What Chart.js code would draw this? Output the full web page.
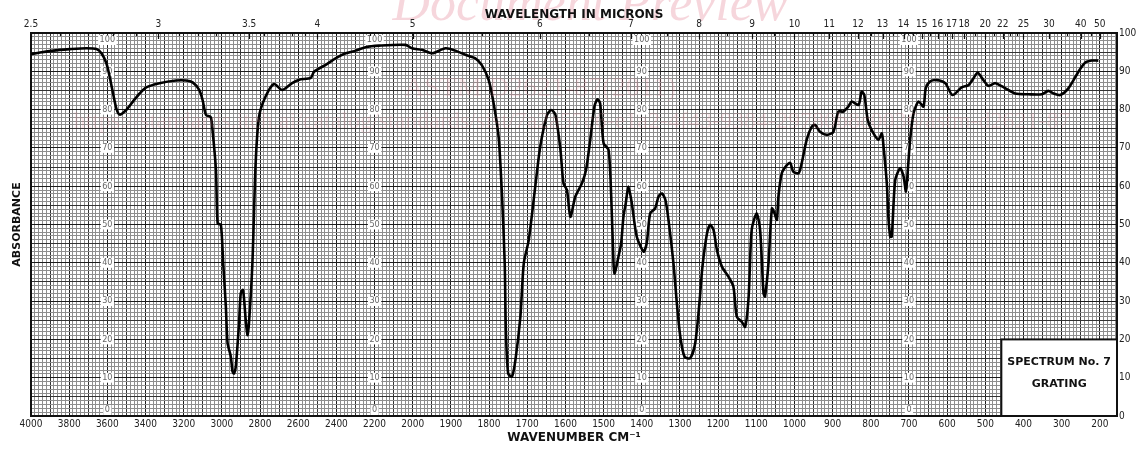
<!DOCTYPE html>
<html>
<head>
<meta charset="utf-8">
<title>Spectrum No. 7 - Grating</title>
<script src="https://cdn.jsdelivr.net/npm/chart.js@4.4.1/dist/chart.umd.min.js"></script>
<style>
	html, body { margin: 0; padding: 0; background: #fff; }
	canvas { display: block; }
</style>
</head>
<body>
<canvas id="spectrum" width="1143" height="450"></canvas>
<script>
// spectrum trace (cm-1 / %)
var wavenumbers = [
	4000, 3953, 3849, 3796, 3709, 3657, 3631, 3605, 3588, 3570, 3553, 3536, 3501, 3466, 3431, 3396,
	3327, 3240, 3188, 3153, 3118, 3101, 3083, 3058, 3049, 3031, 3022, 3005, 2993, 2979, 2970, 2953,
	2944, 2936, 2927, 2910, 2901, 2889, 2875, 2866, 2858, 2840, 2823, 2805, 2771, 2727, 2684, 2632,
	2595, 2534, 2517, 2456, 2404, 2351, 2299, 2247, 2177, 2038, 2003, 1976, 1949, 1914, 1888, 1862,
	1836, 1819, 1801, 1788, 1775, 1766, 1759, 1756, 1750, 1740, 1731, 1718, 1709, 1696, 1679, 1666,
	1648, 1637, 1626, 1613, 1605, 1596, 1587, 1574, 1557, 1546, 1535, 1524, 1516, 1509, 1500, 1487,
	1480, 1474, 1471, 1461, 1454, 1448, 1442, 1435, 1426, 1413, 1395, 1387, 1378, 1365, 1356, 1347,
	1338, 1330, 1317, 1308, 1299, 1288, 1273, 1260, 1249, 1241, 1229, 1221, 1212, 1203, 1190, 1173,
	1160, 1151, 1138, 1129, 1120, 1112, 1099, 1090, 1081, 1077, 1068, 1059, 1052, 1046, 1042, 1033,
	1020, 1011, 1003, 989, 981, 968, 955, 946, 933, 915, 898, 885, 872, 859, 850, 832,
	824, 817, 808, 798, 780, 771, 767, 758, 754, 749, 745, 736, 723, 714, 708, 703,
	697, 688, 675, 662, 656, 645, 627, 605, 586, 562, 544, 534, 520, 505, 492, 474,
	448, 422, 387, 352, 335, 321, 304, 282, 256, 238, 221, 204
];
var absorbance = [
	94.5, 94.9, 95.6, 95.8, 96.0, 95.8, 94.7, 92.1, 88.6, 84.2, 80.3, 78.7, 79.9, 82.1, 84.2, 85.8,
	86.9, 87.6, 87.6, 87.1, 85.1, 82.5, 78.6, 78.0, 74.7, 64.2, 50.3, 49.9, 39.9, 28.5, 19.0, 15.5,
	11.6, 11.1, 12.9, 24.2, 32.0, 32.9, 25.1, 21.1, 24.2, 39.9, 66.0, 78.2, 83.4, 86.7, 85.1, 86.9,
	87.8, 88.3, 89.9, 91.7, 93.4, 94.7, 95.4, 96.3, 96.7, 96.9, 96.0, 95.6, 94.7, 96.0, 95.4, 94.3,
	93.4, 91.6, 87.7, 81.6, 72.9, 57.3, 39.9, 22.5, 11.1, 10.3, 14.6, 25.9, 39.9, 46.0, 59.9, 70.3,
	78.6, 79.9, 78.6, 69.5, 60.7, 59.0, 52.0, 57.3, 60.7, 64.2, 72.1, 80.8, 82.7, 81.6, 71.2, 69.5,
	57.3, 39.9, 37.2, 41.6, 45.1, 52.0, 55.5, 59.9, 55.5, 46.8, 42.9, 45.1, 52.9, 54.2, 57.3, 58.1,
	56.4, 51.2, 39.9, 29.4, 20.7, 15.5, 15.1, 19.0, 29.4, 39.0, 47.7, 49.9, 48.6, 43.3, 39.0, 36.4,
	33.8, 25.9, 24.6, 23.3, 31.2, 48.6, 52.9, 48.6, 32.0, 31.2, 39.9, 54.2, 52.9, 51.2, 57.3, 63.4,
	65.5, 66.1, 63.8, 63.4, 66.0, 72.1, 75.5, 76.0, 74.2, 73.4, 74.2, 79.5, 79.5, 80.8, 82.1, 81.2,
	84.7, 83.8, 77.3, 74.7, 72.1, 73.8, 70.8, 60.7, 52.0, 46.8, 46.8, 61.6, 64.7, 62.5, 58.6, 64.2,
	72.1, 79.0, 82.1, 80.8, 85.6, 87.3, 87.7, 86.9, 83.8, 85.8, 86.4, 87.7, 89.6, 87.7, 86.2, 86.9,
	85.6, 84.2, 84.0, 84.0, 84.9, 84.2, 83.8, 85.6, 89.9, 92.3, 92.8, 92.8
];

// axis labels
var wavenumberTicks = [4000, 3800, 3600, 3400, 3200, 3000, 2800, 2600, 2400, 2200,
	2000, 1900, 1800, 1700, 1600, 1500, 1400, 1300, 1200, 1100, 1000, 900, 800, 700, 600, 500, 400, 300, 200];
var micronTicks = [2.5, 3, 3.5, 4, 5, 6, 7, 8, 9, 10, 11, 12, 13, 14, 15, 16, 17, 18, 20, 22, 25, 30, 40, 50];
var micronMinor = [2.6, 2.7, 2.8, 2.9, 3.1, 3.2, 3.3, 3.4, 3.6, 3.7, 3.8, 3.9, 4.5, 5.5, 6.5, 7.5, 8.5, 9.5,
	10.5, 11.5, 12.5, 13.5, 14.5, 15.5, 16.5, 19, 21, 23, 24, 35, 45];
var absorbanceTicks = [0, 10, 20, 30, 40, 50, 60, 70, 80, 90, 100];
var innerLabelColumns = [3600, 2200, 1400, 700];

var tickFont = '"DejaVu Sans Condensed", "Liberation Sans", sans-serif';
var boldFont = '"DejaVu Sans", "Liberation Sans", sans-serif';

// the grating paper halves its scale above 2000 cm-1
function toPaper(wn) { return wn > 2000 ? 2000 + (wn - 2000) / 2 : wn; }
function fromPaper(u) { return u > 2000 ? 2000 + (u - 2000) * 2 : u; }

var points = wavenumbers.map(function(wn, i) {
	return { x: toPaper(wn), y: absorbance[i] };
});

function gridX(c) {
	var v = c.tick ? c.tick.value : 0;
	if (v % 100 === 0) return '#1c1c1c';
	if (v % 50 === 0) return '#333';
	return '#8e8e8e';
}
function gridY(c) {
	var v = c.tick ? c.tick.value : 0;
	if (v % 10 === 0) return '#1c1c1c';
	if (v % 5 === 0) return '#333';
	return '#8e8e8e';
}

var paperPlugin = {
	id: 'paper',
	beforeDraw: function(chart) {
		// watermark behind the titles
		var ctx = chart.ctx;
		ctx.save();
		ctx.textAlign = 'center';
		ctx.fillStyle = 'rgba(226, 120, 140, 0.3)';
		ctx.font = 'italic 52px "Liberation Serif", serif';
		ctx.fillText('Document Preview', 590, 20);
		ctx.restore();
	},
	beforeDatasetsDraw: function(chart) {
		var ctx = chart.ctx, x = chart.scales.x, y = chart.scales.y;
		ctx.save();
		ctx.font = '9px ' + tickFont;
		ctx.textAlign = 'center';
		ctx.textBaseline = 'middle';
		innerLabelColumns.forEach(function(wn) {
			var px = x.getPixelForValue(toPaper(wn));
			absorbanceTicks.forEach(function(v) {
				var py = y.getPixelForValue(v);
				if (v === 100) py += 7;
				if (v === 0) py -= 6;
				var w = ctx.measureText(String(v)).width + 3;
				ctx.fillStyle = '#fff';
				ctx.fillRect(px - w / 2, py - 5, w, 10);
				ctx.fillStyle = '#666';
				ctx.fillText(String(v), px, py);
			});
		});
		ctx.restore();
	},
	afterDatasetsDraw: function(chart) {
		var ctx = chart.ctx, x = chart.scales.x, y = chart.scales.y, area = chart.chartArea;
		ctx.save();

		// micron marks hanging from the top edge
		ctx.strokeStyle = '#111';
		ctx.lineWidth = 1.2;
		micronTicks.concat(micronMinor).forEach(function(m, i) {
			var px = Math.round(x.getPixelForValue(toPaper(10000 / m))) + 0.5;
			var len = i < micronTicks.length ? 6 : 3;
			ctx.beginPath();
			ctx.moveTo(px, area.top);
			ctx.lineTo(px, area.top + len);
			ctx.stroke();
		});

		// spectrum label box
		var bx = x.getPixelForValue(toPaper(458));
		var by = y.getPixelForValue(20);
		ctx.fillStyle = '#fff';
		ctx.fillRect(bx, by, area.right - bx, area.bottom - by);
		ctx.lineWidth = 2;
		ctx.strokeRect(bx, by, area.right - bx, area.bottom - by);
		ctx.fillStyle = '#111';
		ctx.font = 'bold 11px ' + boldFont;
		ctx.textAlign = 'center';
		ctx.textBaseline = 'middle';
		var cx = (bx + area.right) / 2;
		ctx.fillText('SPECTRUM No. 7', cx, by + 23);
		ctx.fillText('GRATING', cx, by + 45);
		ctx.restore();
	},
	afterDraw: function(chart) {
		// faint document stamp over the paper
		var ctx = chart.ctx;
		ctx.save();
		ctx.textAlign = 'center';
		ctx.fillStyle = 'rgba(226, 120, 140, 0.18)';
		ctx.font = '28px "Liberation Serif", serif';
		ctx.fillText('ASTM D2621-87(2011)', 540, 96);
		ctx.font = '24px "Liberation Serif", serif';
		ctx.fillText('https://standards.iteh.ai/catalog/standards/sist/7a2a57c6-e1a2-4f43-9384-29780b8c0036/astm-d2621-87', 572, 128);
		ctx.restore();
	}
};

new Chart(document.getElementById('spectrum'), {
	type: 'line',
	data: {
		datasets: [{
			data: points,
			borderColor: '#000',
			borderWidth: 2.6,
			pointRadius: 0,
			tension: 0.25,
			fill: false
		}]
	},
	options: {
		responsive: false,
		animation: false,
		layout: { padding: 0 },
		plugins: {
			legend: { display: false },
			tooltip: { enabled: false }
		},
		scales: {
			x: {
				type: 'linear',
				position: 'bottom',
				min: 155,
				max: 3000,
				reverse: true,
				afterBuildTicks: function(scale) {
					var t = [];
					for (var u = 160; u <= 3000; u += 10) t.push({ value: u });
					scale.ticks = t;
				},
				afterFit: function(scale) { scale.height = 34; },
				ticks: {
					autoSkip: false,
					maxRotation: 0,
					padding: 2,
					color: '#222',
					font: { family: tickFont, size: 10 },
					callback: function(v) {
						var wn = fromPaper(v);
						return wavenumberTicks.indexOf(wn) >= 0 ? String(wn) : '';
					}
				},
				grid: { color: gridX, lineWidth: 1, drawTicks: false },
				border: { color: '#111', width: 2 },
				title: {
					display: true,
					text: 'WAVENUMBER CM⁻¹',
					color: '#111',
					font: { family: boldFont, size: 12, weight: 'bold' },
					padding: { top: 0, bottom: 5 }
				}
			},
			x2: {
				type: 'linear',
				position: 'top',
				min: 155,
				max: 3000,
				reverse: true,
				afterBuildTicks: function(scale) {
					scale.ticks = micronTicks.map(function(m) { return { value: toPaper(10000 / m) }; });
				},
				afterFit: function(scale) { scale.height = 33; },
				ticks: {
					autoSkip: false,
					maxRotation: 0,
					padding: 3,
					color: '#222',
					font: { family: tickFont, size: 10 },
					callback: function(v, i) { return String(micronTicks[i]); }
				},
				grid: { drawOnChartArea: false, drawTicks: false },
				border: { color: '#111', width: 2 },
				title: {
					display: true,
					text: 'WAVELENGTH IN MICRONS',
					color: '#111',
					font: { family: boldFont, size: 12, weight: 'bold' },
					padding: { top: 8, bottom: 0 }
				}
			},
			y: {
				type: 'linear',
				position: 'left',
				min: 0,
				max: 100,
				afterBuildTicks: function(scale) {
					var t = [];
					for (var v = 0; v <= 100; v++) t.push({ value: v });
					scale.ticks = t;
				},
				afterFit: function(scale) { scale.width = 31; },
				ticks: { display: false },
				grid: { color: gridY, lineWidth: 1, drawTicks: false },
				border: { color: '#111', width: 2 },
				title: {
					display: true,
					text: 'ABSORBANCE',
					color: '#111',
					font: { family: boldFont, size: 11, weight: 'bold' },
					padding: { top: 11, bottom: 0 }
				}
			},
			y2: {
				type: 'linear',
				position: 'right',
				min: 0,
				max: 100,
				afterBuildTicks: function(scale) {
					scale.ticks = absorbanceTicks.map(function(v) { return { value: v }; });
				},
				afterFit: function(scale) { scale.width = 26; },
				ticks: {
					padding: 2,
					color: '#222',
					font: { family: tickFont, size: 10 }
				},
				grid: { drawOnChartArea: false, drawTicks: false },
				border: { color: '#111', width: 2 }
			}
		}
	},
	plugins: [paperPlugin]
});
</script>
</body>
</html>
